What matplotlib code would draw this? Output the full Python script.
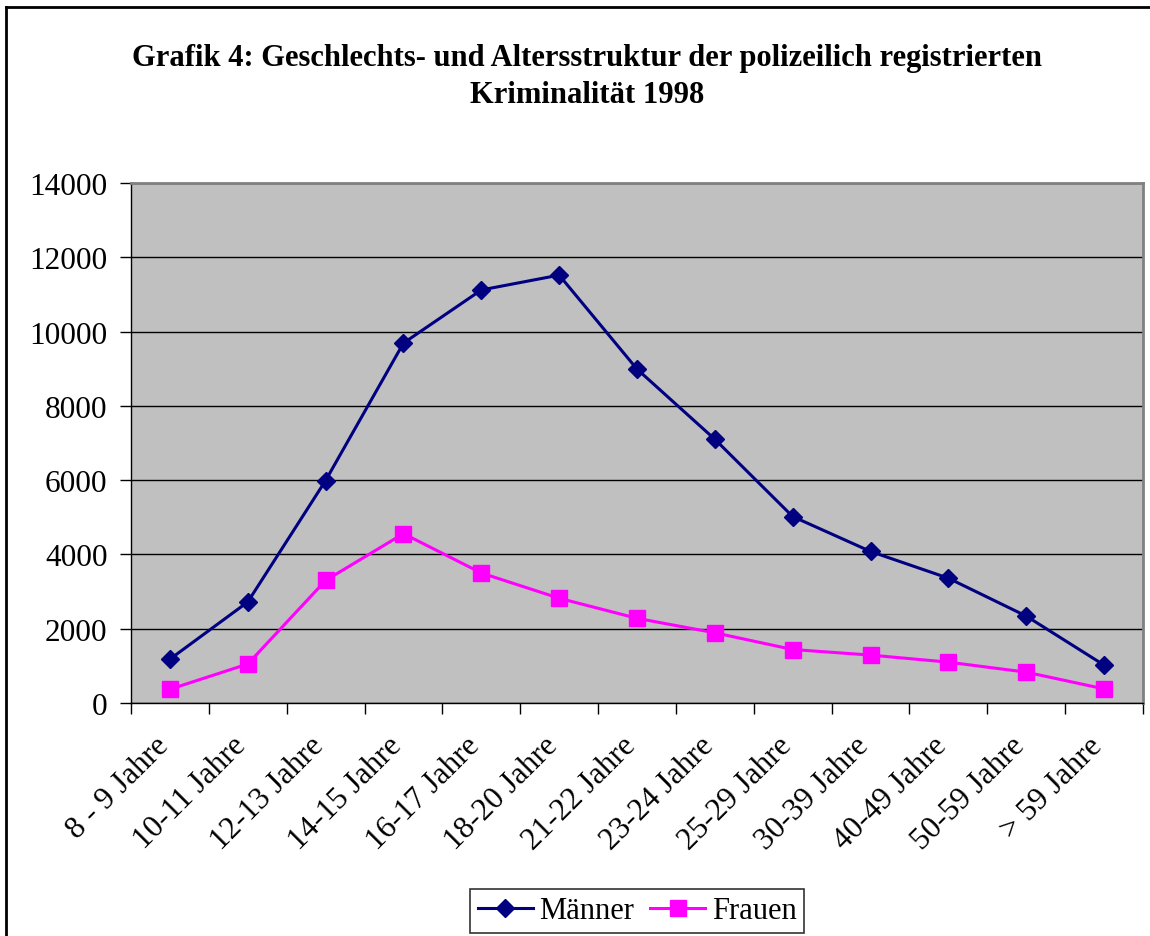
import matplotlib.pyplot as plt
from matplotlib.lines import Line2D
import matplotlib.transforms as mtransforms
import numpy as np

plt.rcParams['font.family'] = ['Liberation Serif', 'DejaVu Serif']

# data
altersgruppen = ['8 - 9 Jahre', '10-11 Jahre', '12-13 Jahre', '14-15 Jahre',
                 '16-17 Jahre', '18-20 Jahre', '21-22 Jahre', '23-24 Jahre',
                 '25-29 Jahre', '30-39 Jahre', '40-49 Jahre', '50-59 Jahre',
                 '> 59 Jahre']
maenner = [1180, 2720, 5990, 9690, 11120, 11520, 8990, 7100, 5020, 4080,
           3360, 2340, 1020]
frauen = [370, 1050, 3300, 4560, 3500, 2820, 2280, 1890, 1440, 1290,
          1100, 830, 380]

fig = plt.figure(figsize=(11.5, 9.37), dpi=100)
ax = fig.add_axes([131/1150, 1-704/937, (1143-131)/1150, (704-184)/937])

x = np.arange(len(altersgruppen))
ax.set_facecolor('#C0C0C0')
ax.plot(x, maenner, color='#000080', lw=2.2, marker='D', ms=9.5,
        label='Männer', zorder=3)
ax.plot(x, frauen, color='#FF00FF', lw=2.2, marker='s', ms=11,
        label='Frauen', zorder=3)

ax.set_xlim(-0.5, len(altersgruppen)-0.5)
ax.set_ylim(0, 14000)
ax.set_yticks(np.arange(0, 14001, 2000))
ax.yaxis.grid(True, color='black', lw=1)
ax.set_axisbelow(True)

# category labels at centres, tick marks at boundaries
ax.set_xticks(x)
ax.set_xticklabels(altersgruppen, rotation=45, ha='right',
                   rotation_mode='anchor', fontsize=22.5)
ax.tick_params(axis='x', which='major', length=0, pad=20)
shift = mtransforms.ScaledTranslation(-16/100, 0, fig.dpi_scale_trans)
for lab in ax.get_xticklabels():
    lab.set_transform(lab.get_transform() + shift)
ax.set_xticks(np.arange(-0.5, len(altersgruppen)), minor=True)
ax.tick_params(axis='x', which='minor', length=8, width=1, color='black')
ax.tick_params(axis='y', length=8, width=1, color='black', labelsize=22.5, pad=9)

for s in ['top', 'right']:
    ax.spines[s].set_color('#808080')
    ax.spines[s].set_linewidth(2)
for s in ['left', 'bottom']:
    ax.spines[s].set_color('black')
    ax.spines[s].set_linewidth(1)

fig.text(587/1150, 1-77/937,
         'Grafik 4: Geschlechts- und Altersstruktur der polizeilich registrierten\nKriminalität 1998',
         ha='center', va='center', fontsize=22, fontweight='bold', linespacing=1.4)

leg = fig.legend(loc='center', bbox_to_anchor=(637/1150, 1-912/937), ncol=2,
                 fontsize=22, frameon=True, fancybox=False, edgecolor='black',
                 handlelength=1.8, handletextpad=0.2, columnspacing=0.55,
                 borderpad=0.25, borderaxespad=0)
leg.get_frame().set_linewidth(1.2)

# outer frame (left and top edges visible)
fig.add_artist(Line2D([6/1150, 6/1150], [0, 1-8/937], color='black', lw=2,
                      transform=fig.transFigure))
fig.add_artist(Line2D([6/1150, 1], [1-8/937, 1-8/937], color='black', lw=2,
                      transform=fig.transFigure))

fig.savefig('out.png', dpi=100)
